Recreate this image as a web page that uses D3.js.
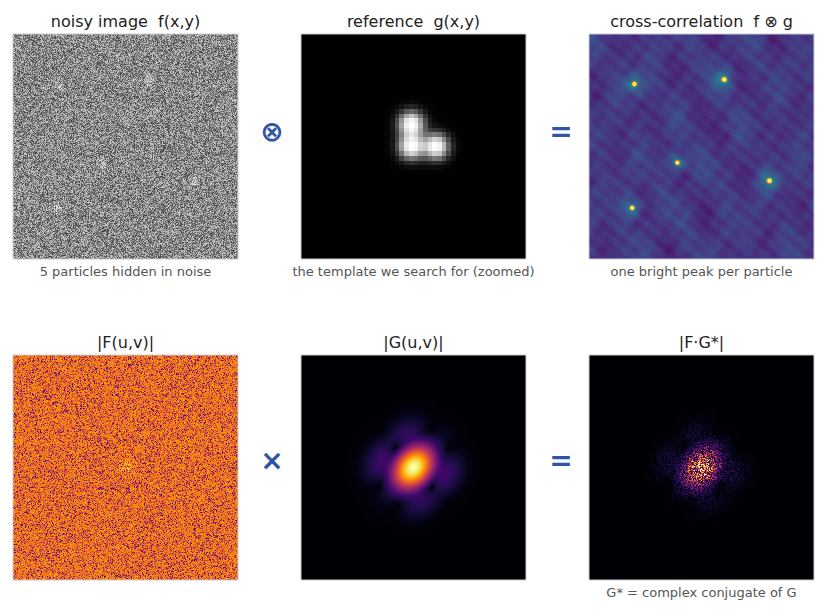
<!DOCTYPE html><html><head><meta charset="utf-8">
<script src="https://cdn.jsdelivr.net/npm/d3@7"></script>
<style>body{margin:0;background:#fff}text{font-family:"DejaVu Sans",sans-serif;white-space:pre}</style></head><body>
<svg id="c" width="827" height="612"></svg>
<script>
// data
const titles = ["noisy image  f(x,y)","reference  g(x,y)","cross-correlation  f \u2297 g","|F(u,v)|","|G(u,v)|","|F\u00b7G*|"];
const captions = ["5 particles hidden in noise","the template we search for (zoomed)","one bright peak per particle","","","G* = complex conjugate of G"];
const operators = ["\u2297","=","\u00d7","="];
const particlesX = [0.20,0.60,0.39,0.80,0.19];
const particlesY = [0.22,0.20,0.57,0.65,0.77];
const templateX = [0.49,0.49,0.60];
const templateY = [0.40,0.50,0.50];

const svg=d3.select("#c");
const colX=[13,301,589], rowY=[34,355], S=225;
const N=225;
function h(i,j,s){let x=Math.sin(i*127.1+j*311.7+s*74.7)*43758.5453;return x-Math.floor(x);}
function img(n,f,cmap){const cv=document.createElement("canvas");cv.width=n;cv.height=n;const ctx=cv.getContext("2d");const d=ctx.createImageData(n,n);
 for(let j=0;j<n;j++)for(let i=0;i<n;i++){const c=d3.rgb(cmap(f(i,j)));const k=4*(j*n+i);d.data[k]=c.r;d.data[k+1]=c.g;d.data[k+2]=c.b;d.data[k+3]=255;}
 ctx.putImageData(d,0,0);return cv.toDataURL();}
const sx=d3.scaleLinear().domain([0,1]).range([0,N]);
function blob(i,j,xs,ys,sg,scale){let v=0;for(let k=0;k<xs.length;k++){const cx=scale(xs[k]),cy=scale(ys[k]);v+=Math.exp(-((i-cx)**2+(j-cy)**2)/(2*sg*sg));}return v;}
const gray=t=>d3.interpolateGreys(1-Math.max(0,Math.min(1,t)));
const pOff=[[0,-2.5],[0,2.5],[3,2.5]];
const f1=(i,j)=>{let p=0;particlesX.forEach((x,k)=>pOff.forEach(q=>{p+=Math.exp(-((i-sx(x)-q[0])**2+(j-sx(particlesY[k])-q[1])**2)/8)}));return 0.2+0.5*h(i,j,1)+0.3*Math.min(1,p)*h(i,j,2);};
const M=48, sm=d3.scaleLinear().domain([0,1]).range([0,M]);
const f2=(i,j)=>Math.min(1,blob(i+0.5,j+0.5,templateX,templateY,1.8,sm));
const smooth=(i,j)=>0.5+0.08*Math.sin(i*0.083+1)*Math.cos(j*0.071)+0.06*Math.sin((i-0.5*j)*0.12+2)+0.06*Math.cos(i*0.19-j*0.13+0.5)*Math.sin(j*0.17)+0.05*Math.sin(i*0.29+j*0.23+1)*Math.cos(i*0.07)+0.04*Math.cos(i*0.37-j*0.41)+0.07*(h(i,j,3)-0.5);
const f3=(i,j)=>{const g=blob(i,j,particlesX,particlesY,7,sx),p=blob(i,j,particlesX,particlesY,1.8,sx);return Math.min(1,smooth(i,j)*0.5+g*0.25+p*0.8);};
const cmap3=t=>t>0.7?d3.interpolateInferno(0.6+0.35*(t-0.7)/0.3):d3.interpolateViridis(Math.max(0,t*0.85-0.05));
const f4=(i,j)=>{const r=Math.hypot(i-112,j-112),a=h(i,j,4);return (a<0.25?0.2+a*1.6:0.55+0.25*a)+0.2*Math.exp(-r*r/60)*h(i,j,5);};
function Gmag(i,j){const u=(i-112)*2*Math.PI/60,v=(j-112)*2*Math.PI/60;let re=0,im=0;for(let k=0;k<3;k++){const x=(templateX[k]-0.52)*10,y=(templateY[k]-0.47)*10;re+=Math.cos(u*x+v*y);im+=Math.sin(u*x+v*y);}const r2=(i-112)**2+(j-112)**2;return Math.hypot(re,im)/3*Math.exp(-r2/(2*19*19));}
const f5=(i,j)=>Math.min(1,Math.pow(Gmag(i,j),0.75)*1.0);
const f6=(i,j)=>Math.min(1,Math.pow(Gmag(i,j),0.9)*(0.1+1.0*h(i,j,6)**1.5)*1.1);
const inf=t=>d3.interpolateInferno(Math.max(0,Math.min(1,t)));
const panels=[[N,f1,gray],[M,f2,gray],[N,f3,cmap3],[N,f4,inf],[N,f5,inf],[N,f6,inf]];
panels.forEach((p,k)=>{const x=colX[k%3],y=rowY[Math.floor(k/3)];
 svg.append("image").attr("x",x).attr("y",y).attr("width",S).attr("height",S).attr("preserveAspectRatio","none").style("image-rendering",k==1?"pixelated":"auto").attr("href",img(p[0],p[1],p[2]));
 svg.append("rect").attr("x",x).attr("y",y).attr("width",S).attr("height",S).attr("fill","none").attr("stroke","#ccc");
 svg.append("text").attr("x",x+S/2).attr("y",y-7).attr("text-anchor","middle").attr("font-size",16).attr("fill","#222").text(titles[k]);
 if(captions[k])svg.append("text").attr("x",x+S/2).attr("y",y+S+17).attr("text-anchor","middle").attr("font-size",13).attr("fill","#555").text(captions[k]);
});
const opPos=[[272,131],[561,131],[272,460],[561,460]];
operators.forEach((o,k)=>svg.append("text").attr("x",opPos[k][0]).attr("y",opPos[k][1]+10).attr("text-anchor","middle").attr("font-size",28).attr("font-weight","bold").attr("fill","#2f55a4").text(o));
</script></body></html>
